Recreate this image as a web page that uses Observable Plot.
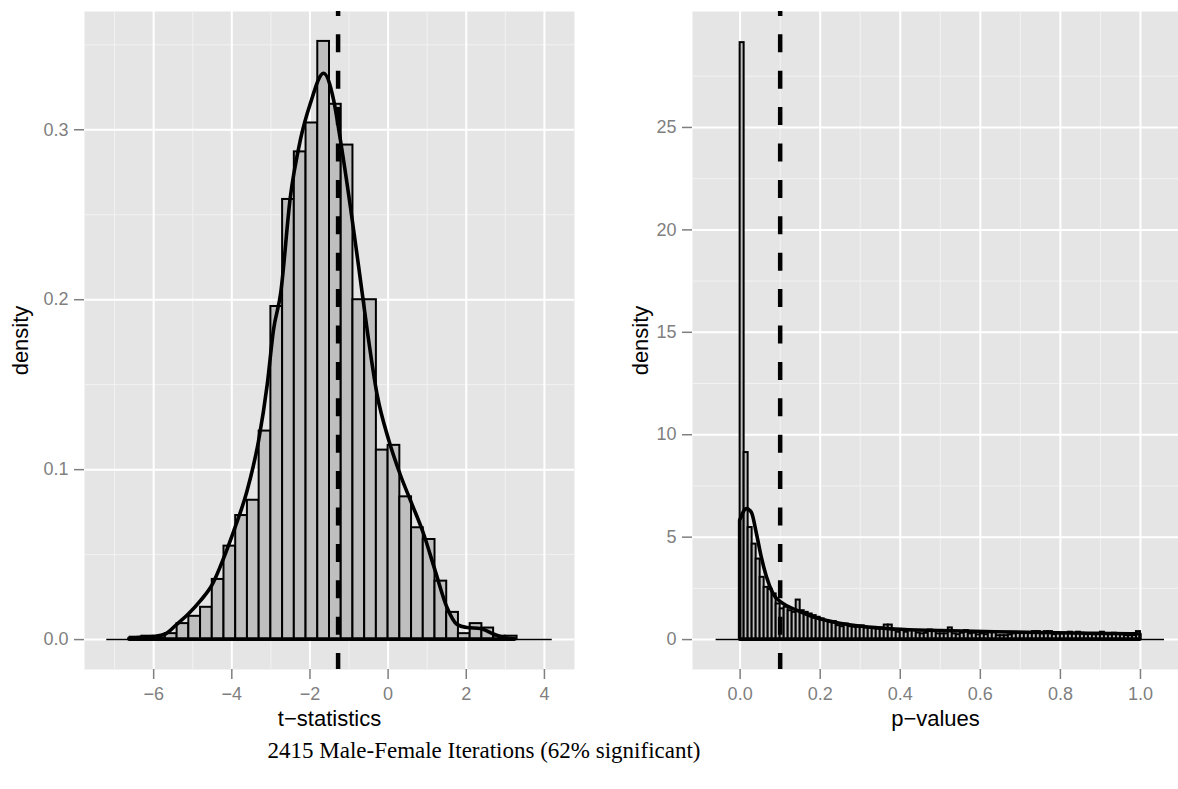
<!DOCTYPE html>
<html><head><meta charset="utf-8">
<script src="https://cdn.jsdelivr.net/npm/d3@7"></script>
<script src="https://cdn.jsdelivr.net/npm/@observablehq/plot@0.6"></script>
<style>
html,body{margin:0;padding:0;background:#fff;overflow:hidden;width:1178px;height:789px;}
#row{display:flex;position:absolute;top:0;left:0;}
#caption{position:absolute;top:738px;left:184px;width:600px;text-align:center;font-family:"Liberation Serif",serif;font-size:23px;color:#000;white-space:nowrap;}
</style></head><body>
<div id="row"><div id="left"></div><div id="right"></div></div>
<div id="caption">2415 Male-Female Iterations (62% significant)</div>
<script>
// ---- t-statistics histogram (bin width 0.3, first bin starts at -7.2) ----
const tBinStart = -7.2;
const tBinWidth = 0.3;
const tHist = [0, 0, 0.0014, 0.002, 0.001, 0.0035, 0.0094, 0.0137, 0.019, 0.0354,
  0.055, 0.073, 0.082, 0.1227, 0.196, 0.259, 0.287, 0.304, 0.352, 0.315,
  0.291, 0.2, 0.2, 0.1115, 0.1143, 0.084, 0.0658, 0.0589, 0.0344, 0.016,
  0.0035, 0.0094, 0.0068, 0.002, 0.002, 0, 0, 0];
// density curve
const tDensX = [-6.62, -6.3, -6.0, -5.69, -5.39, -5.09, -4.79, -4.49, -4.19, -3.9, -3.6, -3.3, -3.08, -2.92, -2.74, -2.49, -2.23, -1.98, -1.64, -1.38, -1.21, -0.95, -0.74, -0.53, -0.27, 0.03, 0.32, 0.62, 0.92, 1.22, 1.52, 1.77, 2.03, 2.37, 2.71, 3.05, 3.25];
const tDensY = [0.0005, 0.001, 0.0015, 0.003, 0.0088, 0.015, 0.0226, 0.032, 0.048, 0.066, 0.087, 0.117, 0.15, 0.182, 0.203, 0.26, 0.294, 0.315, 0.333, 0.317, 0.294, 0.254, 0.219, 0.183, 0.144, 0.117, 0.097, 0.0796, 0.062, 0.04, 0.0186, 0.0088, 0.0068, 0.0062, 0.003, 0.0006, 0.0002];
const tCut = -1.28;

// ---- p-values histogram (bin width 0.01, first bin starts at -0.06) ----
const pBinStart = -0.06;
const pBinWidth = 0.01;
const pHist = [0, 0, 0, 0, 0, 0,
  29.14, 9.13, 5.47, 4.66, 3.93, 3.04, 2.55, 2.45, 2.23, 1.74,
  1.5, 1.58, 1.41, 1.33, 1.93, 1.41, 1.33, 1.25, 1.17, 1.09,
  1.01, 0.93, 0.84, 0.88, 0.68, 0.63, 0.76, 0.63, 0.6, 0.6,
  0.67, 0.57, 0.57, 0.57, 0.52, 0.57, 0.71, 0.71, 0.44, 0.36,
  0.49, 0.36, 0.44, 0.44, 0.32, 0.28, 0.31, 0.47, 0.45, 0.28,
  0.28, 0.28, 0.57, 0.28, 0.24, 0.31, 0.44, 0.28, 0.31, 0.23,
  0.28, 0.24, 0.36, 0.36, 0.19, 0.19, 0.19, 0.23, 0.28, 0.32,
  0.31, 0.33, 0.31, 0.39, 0.39, 0.28, 0.39, 0.39, 0.24, 0.28,
  0.28, 0.31, 0.36, 0.28, 0.36, 0.31, 0.24, 0.28, 0.24, 0.28,
  0.36, 0.28, 0.24, 0.31, 0.28, 0.24, 0.19, 0.19, 0.19, 0.39,
  0, 0, 0, 0, 0, 0];
const pDensX = [0, 0.0167, 0.029, 0.042, 0.054, 0.067, 0.083, 0.108, 0.142, 0.183, 0.2125, 0.25, 0.3875, 0.5, 0.6375, 0.75, 0.8875, 0.99, 1];
const pDensY = [5.8, 6.37, 6.2, 5.15, 4.01, 3.04, 2.23, 1.74, 1.41, 1.09, 0.93, 0.77, 0.49, 0.42, 0.36, 0.32, 0.28, 0.26, 0.25];
const pCut = 0.1;

// ---- axes ----
const tTicks = [-6, -4, -2, 0, 2, 4];
const tMinor = [-7, -5, -3, -1, 1, 3];
const dTicksL = [0, 0.1, 0.2, 0.3];
const dMinorL = [0.05, 0.15, 0.25, 0.35];
const pTicks = [0, 0.2, 0.4, 0.6, 0.8, 1.0];
const pMinor = [0.1, 0.3, 0.5, 0.7, 0.9];
const dTicksR = [0, 5, 10, 15, 20, 25];
const dMinorR = [2.5, 7.5, 12.5, 17.5, 22.5, 27.5];

const FONT = '"Liberation Sans", Arial, sans-serif';

function panel(o) {
  const bins = o.hist.map((d, i) => ({x1: o.binStart + i * o.binWidth, x2: o.binStart + (i + 1) * o.binWidth, d}));
  const dens = o.densX.map((x, i) => ({x, y: o.densY[i]}));
  return Plot.plot({
    width: o.width, height: 730,
    marginTop: 11, marginBottom: 61, marginLeft: o.marginLeft, marginRight: o.marginRight,
    x: {domain: o.xDomain},
    y: {domain: o.yDomain},
    style: {fontFamily: FONT, color: "#7F7F7F", background: "white", overflow: "visible"},
    marks: [
      Plot.frame({fill: "#E5E5E5", stroke: "none"}),
      Plot.ruleX(o.xMinor, {stroke: "#F2F2F2", strokeWidth: 1}),
      Plot.ruleY(o.yMinor, {stroke: "#F2F2F2", strokeWidth: 1}),
      Plot.ruleX(o.xTicks, {stroke: "white", strokeWidth: 2}),
      Plot.ruleY(o.yTicks, {stroke: "white", strokeWidth: 2}),
      Plot.ruleY([0], {x1: bins[0].x1, x2: bins[bins.length - 1].x2, stroke: "black", strokeWidth: 1.5}),
      Plot.rect(bins.filter(b => b.d > 0), {x1: "x1", x2: "x2", y1: 0, y2: "d", fill: "#BFBFBF", stroke: "black", strokeWidth: o.barStroke, inset: 0}),
      Plot.areaY(dens, {x: "x", y: "y", fill: "none", stroke: "black", strokeWidth: 3.6, curve: "monotone-x", strokeLinejoin: "round"}),
      Plot.ruleX([o.cut], {stroke: "black", strokeWidth: 4.5, strokeDasharray: "18,18.4", strokeDashoffset: 13.1}),
      Plot.axisX(o.xTicks, {tickSize: 10, tickPadding: 8, fontSize: 18, tickFormat: o.xFmt, label: null, stroke: "#7F7F7F", strokeWidth: 1.5}),
      Plot.axisY(o.yTicks, {tickSize: 10, tickPadding: 6, fontSize: 18, tickFormat: o.yFmt, label: null, stroke: "#7F7F7F", strokeWidth: 1.5}),
      Plot.text([o.xLabel], {frameAnchor: "bottom", dy: 49, fill: "black", fontSize: 22, lineAnchor: "middle", textAnchor: "middle"}),
      Plot.text(["density"], {frameAnchor: "left", dx: o.yLabelDx, rotate: -90, fill: "black", fontSize: 22, lineAnchor: "middle", textAnchor: "middle"})
    ]
  });
}

document.getElementById("left").append(panel({
  hist: tHist, binStart: tBinStart, binWidth: tBinWidth, densX: tDensX, densY: tDensY, cut: tCut,
  width: 590, marginLeft: 84, marginRight: 16,
  xDomain: [-7.77, 4.77], yDomain: [-0.0176, 0.3696],
  xTicks: tTicks, xMinor: tMinor, yTicks: dTicksL, yMinor: dMinorL,
  xFmt: d3.format("d"), yFmt: d3.format(".1f"),
  xLabel: "t\u2212statistics", yLabelDx: -64, barStroke: 2
}));
document.getElementById("right").append(panel({
  hist: pHist, binStart: pBinStart, binWidth: pBinWidth, densX: pDensX, densY: pDensY, cut: pCut,
  width: 588, marginLeft: 102, marginRight: 0,
  xDomain: [-0.119, 1.095], yDomain: [-1.46, 30.66],
  xTicks: pTicks, xMinor: pMinor, yTicks: dTicksR, yMinor: dMinorR,
  xFmt: d3.format(".1f"), yFmt: d3.format("d"),
  xLabel: "p\u2212values", yLabelDx: -52, barStroke: 2
}));
</script>
</body></html>
